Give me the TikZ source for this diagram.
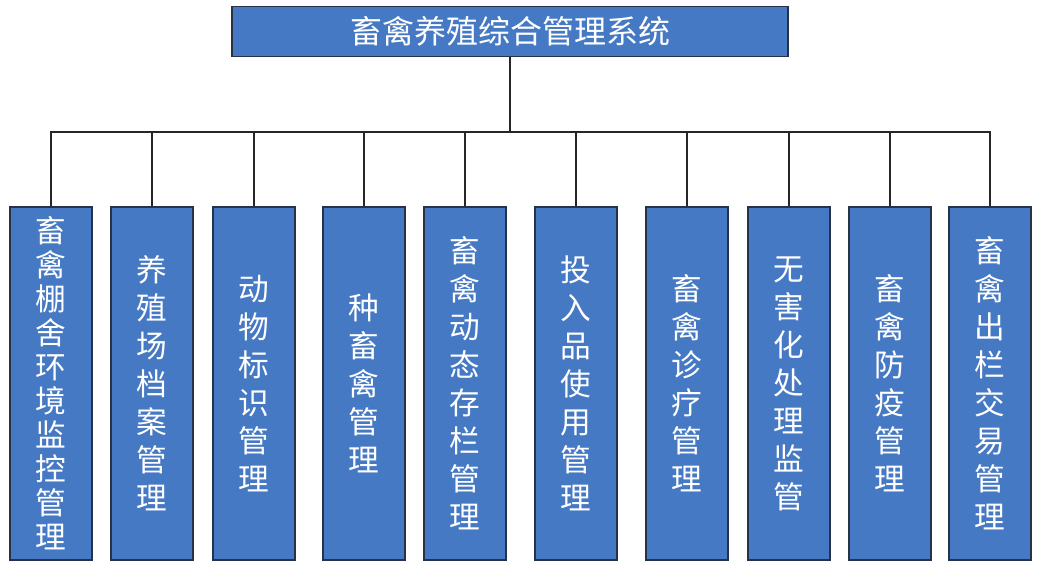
\documentclass[tikz,border=0pt]{standalone}
\usepackage{fontspec}
\usepackage{tikz}
\usetikzlibrary{positioning}
\newfontfamily\cjk{Noto Sans CJK SC}
\definecolor{box area}{RGB}{70,121,196}
\definecolor{box edge}{RGB}{38,50,72}
\colorlet{link}{black!85}
\tikzset{filled/.style={fill=box area, draw=box edge, line width=0.8pt, text=white, inner sep=0pt},
    topbox/.style={filled, minimum width=417pt, minimum height=38pt, font=\cjk\fontsize{24}{28}\selectfont},
    subbox/.style={filled, minimum width=61.5pt, minimum height=264.75pt, align=center},
    wire/.style={draw=link, line width=1.1pt}}

\begin{document}
\begin{tikzpicture}[x=0.75pt,y=-0.75pt]
\useasboundingbox (0,0) rectangle (1038,567);
\node[topbox] (sys) at (510,31.5) {畜禽养殖综合管理系统};
\coordinate (bus) at (510,132);
\foreach \x/\s/\t [count=\i] in {51/25.5/{畜\\禽\\棚\\舍\\环\\境\\监\\控\\管\\理},
    152/28.5/{养\\殖\\场\\档\\案\\管\\理},
    254/28.5/{动\\物\\标\\识\\管\\理},
    364/28.5/{种\\畜\\禽\\管\\理},
    465/28.5/{畜\\禽\\动\\态\\存\\栏\\管\\理},
    576/28.5/{投\\入\\品\\使\\用\\管\\理},
    687/28.5/{畜\\禽\\诊\\疗\\管\\理},
    789/28.5/{无\\害\\化\\处\\理\\监\\管},
    890/28.5/{畜\\禽\\防\\疫\\管\\理},
    990/28.5/{畜\\禽\\出\\栏\\交\\易\\管\\理}}
{
	\node[subbox, font=\cjk\fontsize{23}{\s}\selectfont] (m\i) at (\x,383.5) {\t};
	\draw[wire] (m\i.north) |- (bus);
}
\draw[wire] (sys.south) -- (bus);
\end{tikzpicture}
\end{document}
